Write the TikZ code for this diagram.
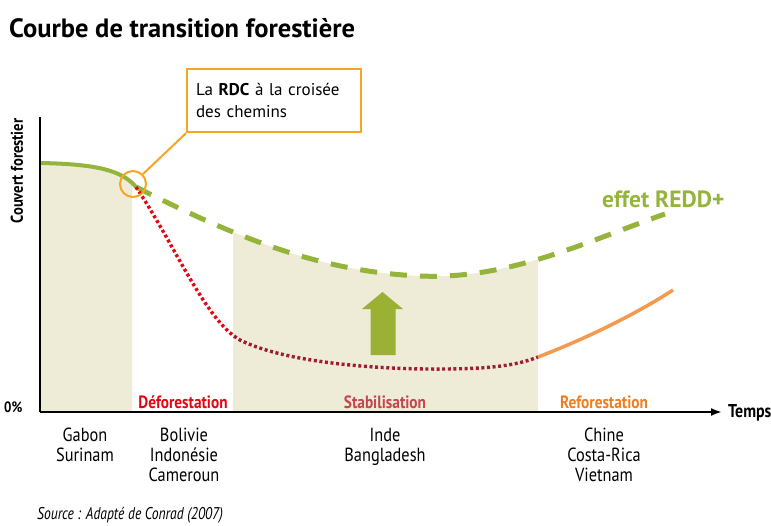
\documentclass[tikz,border=0pt]{standalone}
\usepackage{fontspec}
\setmainfont{PT Sans}
\newfontfamily\cond[FakeStretch=0.86]{PT Sans}
\newfontfamily\condit[FakeStretch=0.80]{PT Sans}
\usetikzlibrary{arrows.meta}
\definecolor{beige}{HTML}{EEEBD6}
\definecolor{leaf}{HTML}{94B43C}
\definecolor{callor}{HTML}{F5A623}
\definecolor{refor}{HTML}{F39A4E}
\definecolor{refortxt}{HTML}{F07D1E}
\definecolor{defred}{HTML}{E30613}
\definecolor{darkred}{HTML}{A01C34}
\definecolor{stabtxt}{HTML}{C4464F}
\definecolor{arrowgreen}{HTML}{9BB134}
\tikzset{
  phase/.style={font=\cond\bfseries\fontsize{17.8}{20}\selectfont, anchor=base, inner sep=0pt},
  country/.style={font=\cond\fontsize{19}{20}\selectfont, align=center, anchor=north, inner sep=0pt},
  axislabel/.style={font=\cond\bfseries\fontsize{17}{19}\selectfont},
  dotline/.style={line width=3.4pt, dash pattern=on 3pt off 2.6pt},
}
\begin{document}
\begin{tikzpicture}[x=1pt,y=-1pt]
\useasboundingbox (0,0) rectangle (771,525);
% named points
\coordinate (origin) at (40,412);
\coordinate (ytop) at (40,117);
\coordinate (xend) at (722,412);
\coordinate (start) at (40,163);
\coordinate (cross) at (136,187);
% shaded regions
\begin{scope}
  \clip (40,100) rectangle (132,412);
  \fill[beige] (start) .. controls (95,164) and (122,170) .. (cross) -- (136,412) -- (40,412) -- cycle;
\end{scope}
\begin{scope}
  \clip (233,100) rectangle (538,412);
  \fill[beige] (cross) .. controls (250,245) and (330,272) .. (420,276) .. controls (510,280) and (590,240) .. (665,214) -- (665,412) -- (136,412) -- cycle;
\end{scope}
% green arrow
\fill[arrowgreen] (370.5,355) -- (395.5,355) -- (395.5,309) -- (403,309) -- (382.5,292) -- (362,309) -- (370.5,309) -- cycle;
% curves
\draw[leaf, line width=4pt] (start) .. controls (95,164) and (122,170) .. (cross);
\draw[leaf, line width=5pt, dash pattern=on 17pt off 13pt] (cross) .. controls (250,245) and (330,272) .. (420,276) .. controls (510,280) and (590,240) .. (665,214);
\begin{scope}
  \clip (100,100) rectangle (233,412);
  \draw[defred, dotline] (cross) .. controls (175,245) and (205,320) .. (240,340) .. controls (290,365) and (400,372) .. (480,368) .. controls (510,366) and (525,362) .. (538,357);
\end{scope}
\begin{scope}
  \clip (233,100) rectangle (540,412);
  \draw[darkred, dotline] (cross) .. controls (175,245) and (205,320) .. (240,340) .. controls (290,365) and (400,372) .. (480,368) .. controls (510,366) and (525,362) .. (538,357);
\end{scope}
\coordinate (rstart) at (538,357);
\draw[refor, line width=3.5pt] (rstart) .. controls (575,343) and (630,318) .. (673,290);
% axes
\draw[line width=2pt] (ytop) -- (origin);
\draw[line width=2pt, -{Latex[length=11pt,width=8pt]}] (origin) -- (xend);
% callout
\node[circle, draw=callor, line width=2pt, minimum size=26pt, inner sep=0pt] (circ) at (133,184) {};
\node[draw=callor, line width=2.2pt, fill=white, anchor=north west, minimum width=174pt, minimum height=63pt,
  text width=156pt, inner xsep=9pt, align=left, font=\fontsize{17}{22}\selectfont] (box) at (186,68)
  {La \textbf{RDC} à la croisée\\des chemins};
\draw[callor, line width=2pt] (circ.45) -- (box.south west);
% texts
\node[anchor=west, font=\bfseries\fontsize{26.5}{30}\selectfont, inner sep=0pt] (title) at (9,28) {Courbe de transition forestière};
\node[axislabel, rotate=90, inner sep=0pt] (ylab) at (17,171) {Couvert forestier};
\node[font=\cond\bfseries\fontsize{15}{17}\selectfont, inner sep=0pt, anchor=west] (zero) at (4,407) {0\%};
\node[font=\cond\bfseries\fontsize{18.5}{20}\selectfont, inner sep=0pt, anchor=west] (temps) at (728,413) {Temps};
\node[leaf, font=\bfseries\fontsize{23.5}{26}\selectfont, inner sep=0pt, anchor=west] (redd) at (602,199) {effet REDD+};
\node[phase, defred] (def) at (183,408) {Déforestation};
\node[phase, stabtxt] (stab) at (385,408) {Stabilisation};
\node[phase, refortxt] (ref) at (604,408) {Reforestation};
\node[country] (c1) at (85,428) {Gabon\\Surinam};
\node[country] (c2) at (184,428) {Bolivie\\Indonésie\\Cameroun};
\node[country] (c3) at (385,428) {Inde\\Bangladesh};
\node[country] (c4) at (604,428) {Chine\\Costa-Rica\\Vietnam};
\node[anchor=base west, font=\itshape\condit\fontsize{17}{19}\selectfont, inner sep=0pt] (src) at (37,519) {Source : Adapté de Conrad (2007)};
\end{tikzpicture}
\end{document}
